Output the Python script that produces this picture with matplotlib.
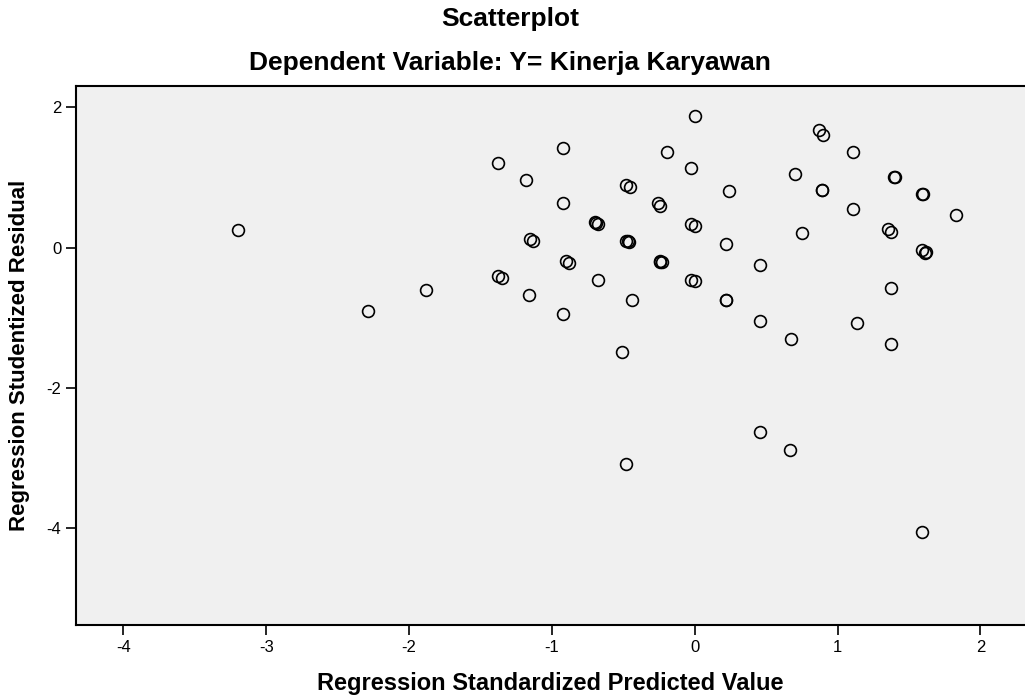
import matplotlib.pyplot as plt
import numpy as np

plt.rcParams['font.family'] = ['Liberation Sans', 'DejaVu Sans']
plt.rcParams['axes.unicode_minus'] = False

# regression standardized predicted value (x) and studentized residual (y)
pred = [
    0.00, -0.92, -0.196, -1.375, -0.026, -1.18, -0.48, -0.455, 0.24, -0.92,
    -0.26, -0.245, -0.70, -0.68, -0.69, -0.025, 0.00, -1.15, -1.13, -0.48,
    -0.46, -0.47, 0.217, -0.90, -0.88, -0.245, -0.23, -0.24, -1.375,
    -1.35, -0.68, -0.025, 0.00, -1.16, -0.44, 0.217, 0.22, -0.92, -0.51,
    0.87, 0.895, 1.11, 0.70, 1.395, 1.40, 0.89, 0.89, 1.59,
    1.595, 1.83, 1.11, 0.75, 1.35, 1.377, 1.59, 1.615, 1.62, 0.457,
    1.375, 0.457, 1.137, 0.675, 1.377, -3.20, -2.29, -1.88, -0.48, 0.457,
    0.67, 1.59,
]
resid = [
    1.88, 1.42, 1.37, 1.20, 1.13, 0.97, 0.89, 0.86, 0.81, 0.63,
    0.63, 0.60, 0.36, 0.34, 0.35, 0.34, 0.31, 0.13, 0.10, 0.10,
    0.08, 0.09, 0.05, -0.19, -0.22, -0.19, -0.21, -0.20, -0.40,
    -0.43, -0.46, -0.46, -0.48, -0.67, -0.75, -0.75, -0.75, -0.95, -1.49,
    1.68, 1.61, 1.36, 1.05, 1.01, 1.01, 0.815, 0.815, 0.76,
    0.76, 0.47, 0.555, 0.21, 0.26, 0.22, -0.04, -0.07, -0.06, -0.25,
    -0.575, -1.04, -1.08, -1.305, -1.37, 0.255, -0.90, -0.61, -3.08, -2.625,
    -2.89, -4.06,
]

x_ticks = [-4, -3, -2, -1, 0, 1, 2]
y_ticks = [2, 0, -2, -4]

fig = plt.figure(figsize=(10.25, 6.96), dpi=100)
ax = fig.add_axes([0.0741, 0.102, 0.9259, 0.774])
ax.set_facecolor('#f0f0f0')

ax.plot(pred, resid, 'o', markersize=8.5, markerfacecolor='none',
        markeredgecolor='black', markeredgewidth=1.2, linestyle='none')

ax.set_xlim(-4.332, 2.312)
ax.set_ylim(-5.38, 2.30)
ax.set_xticks(x_ticks)
ax.set_yticks(y_ticks)
ax.tick_params(direction='out', length=7, width=1.2, labelsize=12, colors='black')
for s in ax.spines.values():
    s.set_linewidth(1.5)
ax.spines['right'].set_visible(False)

ax.set_xlabel('Regression Standardized Predicted Value', fontsize=17,
              fontweight='bold', va='center')
ax.set_ylabel('Regression Studentized Residual', fontsize=16,
              fontweight='bold', va='center')
ax.xaxis.set_label_coords(0.5, -0.108)
ax.yaxis.set_label_coords(-0.059, 0.5)

fig.text(0.4976, 0.972, 'Scatterplot', ha='center', va='center',
         fontsize=19, fontweight='bold')
fig.text(0.4976, 0.909, 'Dependent Variable: Y= Kinerja Karyawan', ha='center',
         va='center', fontsize=19, fontweight='bold')

fig.savefig('out.png', dpi=100)
